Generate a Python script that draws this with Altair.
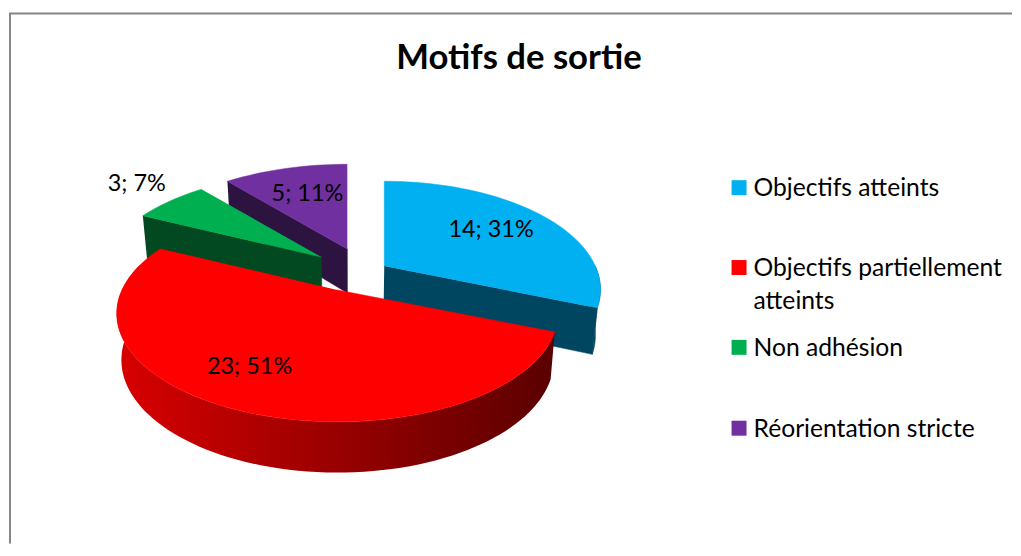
import math
import altair as alt
import pandas as pd

categories = ["Objectifs atteints", "Objectifs partiellement atteints", "Non adhésion", "Réorientation stricte"]
values = [14, 23, 3, 5]
colors = ["#00B0F0", "#FF0000", "#00B050", "#7030A0"]
wall_colors = ["#004660", None, "#024820", "#2D1340"]
title_text = "Motifs de sortie"

W, H = 1005, 536
OX, OY = 8, 8
FONT = "Lato"
S, SH, T = 218.0, 103.4, 0.217          # plane scale, plane height, perspective
apex = [(384, 266), (337, 290), (321, 257), (347, 249)]
radial_x = [0.97, 0.99, 1.0, 1.0]

total = sum(values)
starts, a = [], 0.0
for v in values:
    starts.append(a)
    a += v / total * 360
ends = [s + v / total * 360 for s, v in zip(starts, values)]


def top(k, deg):
    r = math.radians(deg)
    u, v = math.sin(r) * radial_x[k], -math.cos(r)
    w = 1 - T * v
    return apex[k][0] + S * u / w, apex[k][1] + SH * v / w


def drop(p):
    return 350 + (p[0] - 350) * 0.98, p[1] + 44 + (p[1] - 249) * 0.04


def arc(k, d0, d1):
    n = max(2, int(abs(d1 - d0) / 2))
    return [top(k, d0 + (d1 - d0) * i / n) for i in range(n + 1)]


def wedge(k):
    return [apex[k]] + arc(k, starts[k], ends[k])


def quad(a_pt, b_pt):
    return [a_pt, b_pt, drop(b_pt), drop(a_pt)]


layers_poly = [
    ("purple_wall", quad(top(3, starts[3]), apex[3]), wall_colors[3]),
    ("purple_top", wedge(3), colors[3]),
    ("green_wall", quad(top(2, starts[2]), apex[2]), wall_colors[2]),
    ("green_top", wedge(2), colors[2]),
    ("blue_outer", arc(0, 90, ends[0]) + [drop(p) for p in arc(0, 90, ends[0])][::-1], wall_colors[0]),
    ("blue_wall", quad(apex[0], top(0, ends[0])), wall_colors[0]),
    ("blue_top", wedge(0), colors[0]),
    ("red_wall", arc(1, starts[1], 285) + [drop(p) for p in arc(1, starts[1], 285)][::-1], None),
    ("red_top", wedge(1), colors[1]),
]

red_gradient = alt.Gradient(
    gradient="linear", x1=0, x2=1, y1=0, y2=0,
    stops=[alt.GradientStop(color="#D80000", offset=0), alt.GradientStop(color="#5A0000", offset=1)],
)

xs = alt.X("x:Q", scale=alt.Scale(domain=[0, W], range=[0, W]), axis=None)
ys = alt.Y("y:Q", scale=alt.Scale(domain=[0, H], range=[0, H]), axis=None)

charts = []
for name, pts, col in layers_poly:
    df = pd.DataFrame({"x": [p[0] - OX for p in pts], "y": [p[1] - OY for p in pts], "i": range(len(pts))})
    if col is None:
        mk = alt.Chart(df).mark_line(fill=red_gradient, strokeWidth=0, interpolate="linear")
    else:
        mk = alt.Chart(df).mark_line(fill=col, stroke=col, strokeWidth=0.5, interpolate="linear")
    charts.append(mk.encode(x=xs, y=ys, order="i:Q"))

labels = [f"{v}; {round(v / total * 100)}%" for v in values]
label_pos = [(491, 230), (249, 367), (136, 184), (307, 194)]
lab_df = pd.DataFrame({"t": labels, "x": [p[0] - OX for p in label_pos], "y": [p[1] - OY for p in label_pos]})
charts.append(alt.Chart(lab_df).mark_text(font=FONT, fontSize=23.5, color="#000000", align="center", baseline="middle")
              .encode(x=xs, y=ys, text="t:N"))

# title
charts.append(alt.Chart(pd.DataFrame({"t": [title_text], "x": [519 - OX], "y": [59 - OY]}))
              .mark_text(font=FONT, fontSize=34.7, fontWeight="bold", color="#000000", align="center", baseline="middle")
              .encode(x=xs, y=ys, text="t:N"))

# legend
row_y = [187.5, 267.5, 347.5, 428.5]
text_y = [188.5, 269, 349.5, 430]
leg_sq = pd.DataFrame({"x": [739.5 - OX] * 4, "y": [y - OY for y in row_y], "c": categories})
charts.append(alt.Chart(leg_sq).mark_square(size=225, opacity=1, filled=True).encode(
    x=xs, y=ys,
    color=alt.Color("c:N", scale=alt.Scale(domain=categories, range=colors), legend=None)))
leg_lines = [("Objectifs atteints", text_y[0]), ("Objectifs partiellement", text_y[1]), ("atteints", text_y[1] + 33),
             ("Non adhésion", text_y[2]), ("Réorientation stricte", text_y[3])]
leg_txt = pd.DataFrame({"t": [l[0] for l in leg_lines], "x": [754 - OX] * 5, "y": [l[1] - OY for l in leg_lines]})
charts.append(alt.Chart(leg_txt).mark_text(font=FONT, fontSize=24.7, color="#000000", align="left", baseline="middle")
              .encode(x=xs, y=ys, text="t:N"))

# chart-area border (top and left only are in frame)
charts.append(alt.Chart(pd.DataFrame({"a": [0]})).mark_rule(color="#868686", strokeWidth=2).encode(
    x=alt.value(1), y=alt.value(5), y2=alt.value(H)))
charts.append(alt.Chart(pd.DataFrame({"a": [0]})).mark_rule(color="#868686", strokeWidth=2).encode(
    x=alt.value(0), x2=alt.value(W), y=alt.value(5)))

chart = alt.layer(*charts).properties(width=W, height=H, padding=0, background="white").configure_view(stroke=None)
chart = chart.resolve_scale(color="independent")
chart.save("out.html", embed_options={"renderer": "svg", "actions": False})
